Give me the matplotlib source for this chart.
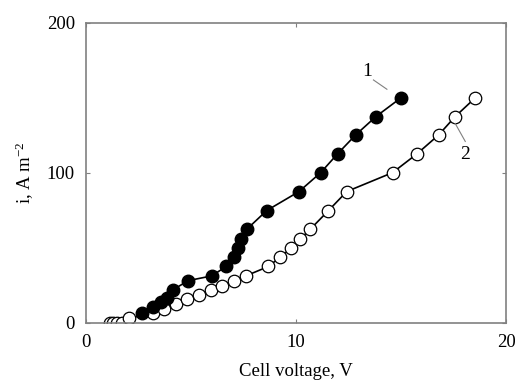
import numpy as np
import matplotlib
matplotlib.use('Agg')
import matplotlib.pyplot as plt

# data
v1 = [2.65, 3.17, 3.56, 3.87, 4.13, 4.87, 5.98, 6.67, 7.05, 7.25, 7.37, 7.65,
      8.6, 10.14, 11.17, 11.97, 12.83, 13.8, 15.0]
i1 = [6.4, 10.4, 13.6, 16.9, 22, 28.2, 31.3, 37.6, 44.2, 49.8, 55.8, 62.4,
      74.9, 87.6, 100.2, 112.7, 125.3, 137.6, 150.2]

v2 = [1.14, 1.3, 1.49, 1.69, 2.05, 3.17, 3.73, 4.27, 4.82, 5.38, 5.94, 6.49,
      7.05, 7.6, 8.68, 9.24, 9.76, 10.19, 10.67, 11.54, 12.41, 14.59, 15.75,
      16.78, 17.57, 18.52]
i2 = [0, 0, 0, 0, 3.1, 6.4, 9.3, 12.4, 15.8, 18.7, 22, 24.9,
      28.2, 31.3, 37.6, 43.8, 49.8, 55.8, 62.4, 74.9, 87.6, 100.2, 112.7,
      125.3, 137.6, 150]

plt.rcParams['font.family'] = ['Liberation Serif', 'DejaVu Serif']
plt.rcParams['mathtext.default'] = 'regular'

fig = plt.figure(figsize=(5.15, 3.83), dpi=100)
ax = fig.add_axes([0.167, 0.157, 0.816, 0.783])

ax.plot(v2, i2, '-o', color='black', lw=1.2, markersize=9,
        markerfacecolor='white', markeredgecolor='black', markeredgewidth=0.9)
ax.plot(v1, i1, '-o', color='black', lw=1.2, markersize=9,
        markerfacecolor='black', markeredgecolor='black')

# curve labels with leader lines
ax.plot([13.68, 14.32], [162, 155.8], color='gray', lw=0.8)
ax.text(13.37, 167.5, '1', fontsize=14, ha='center', va='center')
ax.plot([17.57, 18.05], [133, 121], color='gray', lw=0.8)
ax.text(18.05, 112, '2', fontsize=14, ha='center', va='center')

ax.set_xlim(0, 20)
ax.set_ylim(0, 200)
ax.set_xticks([0, 10, 20])
ax.set_yticks([0, 100, 200])
ax.tick_params(direction='in', top=True, right=True, labelsize=13.5,
               color='gray', length=3, pad=8)
for s in ax.spines.values():
    s.set_color('gray')
    s.set_linewidth(1.2)

ax.set_xlabel('Cell voltage, V', fontsize=13.5, labelpad=9)
ax.set_ylabel('i, A m$^{-2}$', fontsize=13.5, labelpad=8)

fig.savefig('out.png', dpi=100)
